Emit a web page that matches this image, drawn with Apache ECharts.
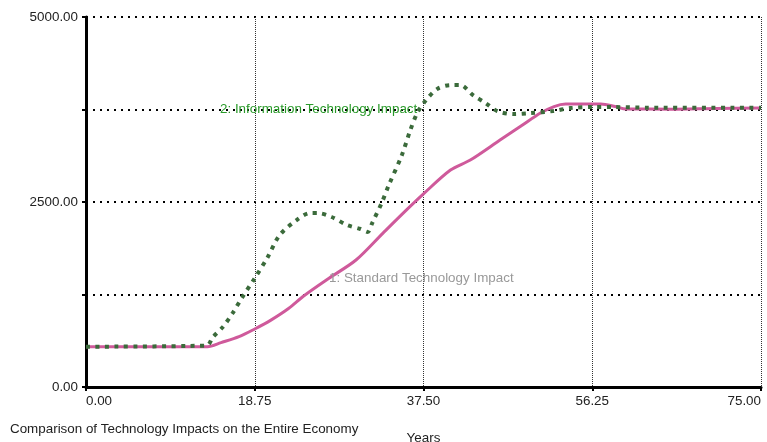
<!DOCTYPE html>
<html>
<head>
<meta charset="utf-8">
<script src="https://cdn.jsdelivr.net/npm/echarts@6/dist/echarts.min.js"></script>
<style>
  html, body { margin: 0; padding: 0; background: #fff; }
  #chart { width: 767px; height: 442px; }
</style>
</head>
<body>
<div id="chart"></div>
<script>
// 年份刻度
const xTicks = [0, 18.75, 37.5, 56.25, 75];
const yTicks = [0, 2500, 5000];

// 1: Standard Technology Impact
const stdYears = [0, 13.5, 15, 17, 18.75, 20.5, 22.5, 24.3, 27, 30, 33, 35.5, 37.5, 40.5, 42.7, 46, 48.5, 50.5, 52, 53.3, 57.2, 58.8, 60, 65, 70, 75];
const stdValues = [545, 545, 600, 680, 784, 900, 1060, 1240, 1470, 1716, 2080, 2380, 2610, 2932, 3067, 3337, 3540, 3702, 3790, 3823, 3823, 3790, 3756, 3755, 3765, 3770];

// 2: Information Technology Impact
const itYears = [0, 13.4, 14.1, 15.2, 16.3, 17.3, 18.75, 20.2, 21.5, 23.4, 24.9, 25.8, 27.3, 29.0, 30.5, 31.3, 31.8, 32.9, 33.6, 35.1, 36.0, 36.8, 37.7, 39.0, 40.5, 41.6, 43.0, 44.4, 45.7, 47.5, 49.4, 51.9, 53.8, 56.4, 58.6, 62.4, 75];
const itValues = [545, 560, 675, 810, 1000, 1200, 1470, 1757, 2050, 2256, 2350, 2350, 2297, 2190, 2135, 2094, 2216, 2500, 2716, 3135, 3459, 3702, 3864, 4026, 4080, 4080, 3945, 3837, 3729, 3688, 3702, 3729, 3769, 3783, 3783, 3775, 3775];

const pair = (xs, ys) => xs.map((x, i) => [x, ys[i]]);

const FONT = "13.4px Liberation Sans, Arial, sans-serif";

const chart = echarts.init(document.getElementById("chart"));

const options = {
  animation: false,
  textStyle: { fontFamily: "Liberation Sans, Arial, sans-serif" },
  grid: { left: 86, right: 6, top: 17, bottom: 55, outerBoundsMode: "none", containLabel: false },
  xAxis: {
    type: "value",
    min: 0,
    max: 75,
    interval: 18.75,
    name: "Years",
    nameLocation: "middle",
    nameGap: 45,
    nameTextStyle: { color: "#222", fontSize: 13.4 },
    axisLine: { lineStyle: { color: "#000", width: 3 } },
    axisTick: { length: 4, lineStyle: { color: "#000", width: 2 } },
    axisLabel: {
      color: "#222",
      fontSize: 13.4,
      margin: 8,
      alignMinLabel: "left",
      alignMaxLabel: "right",
      formatter: (v) => (xTicks.includes(v) ? v.toFixed(2) : ""),
    },
    splitLine: {
      show: true,
      lineStyle: { color: "#333", width: 1, type: [1, 1] },
    },
  },
  yAxis: {
    type: "value",
    min: 0,
    max: 5000,
    interval: 1250,
    axisLine: { show: true, lineStyle: { color: "#000", width: 3 } },
    axisTick: { show: true, length: 4, lineStyle: { color: "#000", width: 2 } },
    axisLabel: {
      color: "#222",
      fontSize: 13.4,
      margin: 8,
      formatter: (v) => (yTicks.includes(v) ? v.toFixed(2) : ""),
    },
    splitLine: {
      show: true,
      lineStyle: { color: "#000", width: 2, type: [2, 5] },
    },
  },
  series: [
    {
      name: "1: Standard Technology Impact",
      type: "line",
      smooth: 0.3,
      symbol: "none",
      data: pair(stdYears, stdValues),
      lineStyle: { color: "#cf5a9b", width: 3 },
      z: 3,
    },
    {
      name: "2: Information Technology Impact",
      type: "line",
      smooth: 0.3,
      symbol: "none",
      data: pair(itYears, itValues),
      lineStyle: { color: "#3b6b3b", width: 4, type: [4, 5.5], cap: "butt" },
      z: 4,
    },
  ],
  graphic: [
    {
      type: "text",
      left: 220,
      top: 103,
      style: { text: "2: Information Technology Impact", fill: "#2a9a2a", font: FONT },
      z: 10,
    },
    {
      type: "text",
      left: 329,
      top: 272,
      style: { text: "1: Standard Technology Impact", fill: "#999", font: FONT },
      z: 10,
    },
    {
      type: "text",
      left: 10,
      top: 423,
      style: { text: "Comparison of Technology Impacts on the Entire Economy", fill: "#222", font: FONT },
    },
  ],
};

chart.setOption(options);

window.addEventListener("resize", () => {
  chart.resize();
});
</script>
</body>
</html>
